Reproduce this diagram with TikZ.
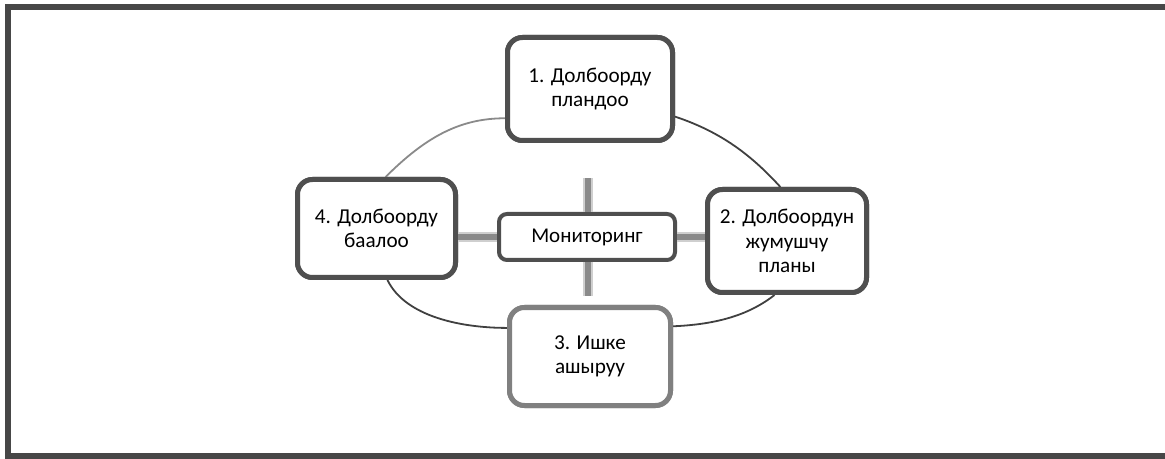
\documentclass[tikz,border=0pt]{standalone}
\usepackage{fontspec}
\setmainfont{Carlito}
\definecolor{framec}{HTML}{474747}
\definecolor{boxc}{HTML}{4F4F4F}
\definecolor{boxlight}{HTML}{808080}
\definecolor{arcdark}{HTML}{404040}
\definecolor{arclight}{HTML}{8A8A8A}
\definecolor{barc}{HTML}{8A8A8A}
\definecolor{barhalo}{HTML}{CFCFCF}
\tikzset{
  stagebox/.style={draw=boxc, line width=2.5pt, rounded corners=7.5pt, fill=white,
    align=center, inner sep=0pt, font=\fontsize{10.6}{12.3}\selectfont},
  monbox/.style={draw=boxc, line width=2pt, rounded corners=4pt, fill=white,
    inner sep=0pt, minimum width=88pt, minimum height=23pt,
    font=\fontsize{10.5}{12.3}\selectfont},
  cyclearc/.style={line width=0.9pt, draw=arcdark},
  barhalo/.style={line width=4.6pt, draw=barhalo},
  barcore/.style={line width=3pt, draw=barc},
}
\begin{document}
\begin{tikzpicture}[x=0.5pt,y=-0.5pt]
\useasboundingbox (0,0) rectangle (1165,459);
\draw[line width=3pt, draw=framec] (8,7) rectangle (1167.5,456);

% stage boxes (first pass, for anchors)
\node[stagebox, minimum width=82.5pt, minimum height=51.5pt] (b1) at (590,89) {1. Долбоорду\\пландоо};
\node[stagebox, minimum width=79.5pt, minimum height=51.5pt] (b2) at (787,241) {2. Долбоордун\\жумушчу\\планы};
\node[stagebox, draw=boxlight, minimum width=80.5pt, minimum height=49pt] (b3) at (590,356.5) {3. Ишке\\ашыруу};
\node[stagebox, minimum width=79pt, minimum height=49pt] (b4) at (376.5,228.5) {4. Долбоорду\\баалоо};

% cycle arcs
\draw[cyclearc, draw=arclight] (b4.80) .. controls +(40,-40) and +(-45,0) .. (b1.199);
\draw[cyclearc] (b1.-18) .. controls +(45,15) and +(-30,-33) .. (b2.97);
\draw[cyclearc] (b4.-78) .. controls +(18,37) and +(-45,0) .. (b3.161);
\draw[cyclearc] (b3.20) .. controls +(48,-2) and +(-23,18) .. (b2.257);

% boxes again, above the arcs
\node[stagebox, minimum width=82.5pt, minimum height=51.5pt] at (b1) {1. Долбоорду\\пландоо};
\node[stagebox, minimum width=79.5pt, minimum height=51.5pt] at (b2) {2. Долбоордун\\жумушчу\\планы};
\node[stagebox, draw=boxlight, minimum width=80.5pt, minimum height=49pt] at (b3) {3. Ишке\\ашыруу};
\node[stagebox, minimum width=79pt, minimum height=49pt] at (b4) {4. Долбоорду\\баалоо};

% monitoring
\node[monbox] (mon) at (587,237) {Мониторинг};
\coordinate (tb) at (588,178);
\coordinate (bb) at (588,296);

\foreach \s in {barhalo,barcore}{
  \draw[\s] ([xshift=0.5pt]mon.north) -- (tb);
  \draw[\s] ([xshift=0.5pt]mon.south) -- (bb);
  \draw[\s] (mon.west) -- (mon.west -| b4.east);
  \draw[\s] (mon.east) -- (mon.east -| b2.west);
}
\end{tikzpicture}
\end{document}
